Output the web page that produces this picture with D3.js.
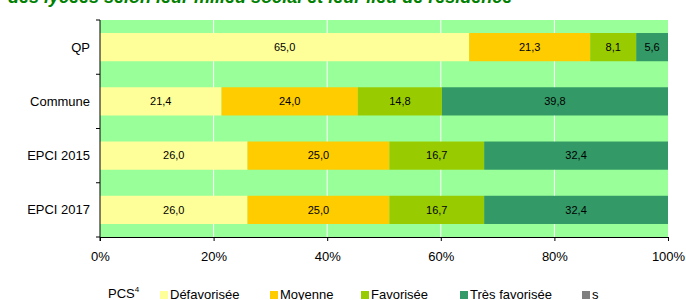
<!DOCTYPE html>
<html>
<head>
<meta charset="utf-8">
<script src="https://cdn.jsdelivr.net/npm/d3@7"></script>
<style>
  body { margin: 0; background: #fff; }
  svg text { font-family: "Liberation Sans", Arial, sans-serif; }
</style>
</head>
<body>
<script>
// categories and series
var categories = ["QP", "Commune", "EPCI 2015", "EPCI 2017"]
var seriesNames = ["Défavorisée", "Moyenne", "Favorisée", "Très favorisée", "s"]
var seriesColors = ["#FFFF99", "#FFCC00", "#99CC00", "#339966", "#808080"]

var defavorisee = [65.0, 21.4, 26.0, 26.0]
var moyenne = [21.3, 24.0, 25.0, 25.0]
var favorisee = [8.1, 14.8, 16.7, 16.7]
var tresFavorisee = [5.6, 39.8, 32.4, 32.4]
var secret = [0, 0, 0, 0]

var tickValues = [0, 0.2, 0.4, 0.6, 0.8, 1]
var title = "des lycées selon leur milieu social et leur lieu de résidence"

var width = 686, height = 300
var margins = {left: 100, right: 18, top: 20, bottom: 63}

var svg = d3.select("body").append("svg")
  .attr("width", width)
  .attr("height", height)

// title, cut at the top like the reference
svg.append("text")
  .attr("x", 8)
  .attr("y", 3)
  .attr("font-size", 18)
  .attr("font-weight", "bold")
  .attr("font-style", "italic")
  .attr("fill", "#008000")
  .text(title)

var allSeries = [defavorisee, moyenne, favorisee, tresFavorisee, secret]
var rows = categories.map(function(c, i) {
  var row = {name: c}
  seriesNames.forEach(function(s, j) { row[s] = allSeries[j][i] })
  return row
})

// normalise each row to 100%
var totals = rows.map(function(r) { return d3.sum(seriesNames, function(s) { return r[s] }) })
var stack = d3.stack().keys(seriesNames)
  .value(function(d, key) { return d[key] / totals[rows.indexOf(d)] })
var stacked = stack(rows)

var scaleX = d3.scaleLinear().domain([0, 1]).range([margins.left, width - margins.right])
var scaleY = d3.scaleBand().domain(categories)
  .range([margins.top, height - margins.bottom])
  .paddingInner(0.48).paddingOuter(0.24)
var bandStep = scaleY.step()

// plot background
svg.append("rect")
  .attr("x", scaleX(0))
  .attr("y", margins.top)
  .attr("width", scaleX(1) - scaleX(0))
  .attr("height", height - margins.bottom - margins.top)
  .attr("fill", "#99FF99")

// vertical gridlines
svg.append("g").selectAll("line")
  .data(tickValues.slice(1, -1))
  .enter().append("line")
  .attr("x1", function(d) { return scaleX(d) })
  .attr("x2", function(d) { return scaleX(d) })
  .attr("y1", margins.top)
  .attr("y2", height - margins.bottom)
  .attr("stroke", "#fff")
  .attr("stroke-width", 1)

// bars
var groups = svg.append("g").selectAll("g")
  .data(stacked)
  .enter().append("g")
  .attr("fill", function(d, i) { return seriesColors[i] })

groups.selectAll("rect")
  .data(function(d) { return d })
  .enter().append("rect")
  .attr("x", function(d) { return scaleX(d[0]) })
  .attr("width", function(d) { return scaleX(d[1]) - scaleX(d[0]) })
  .attr("y", function(d) { return scaleY(d.data.name) })
  .attr("height", scaleY.bandwidth())

// value labels
groups.each(function(serie) {
  d3.select(this).selectAll("text")
    .data(serie.filter(function(d) { return d.data[serie.key] > 0 }))
    .enter().append("text")
    .attr("x", function(d) { return (scaleX(d[0]) + scaleX(d[1])) / 2 })
    .attr("y", function(d) { return scaleY(d.data.name) + scaleY.bandwidth() / 2 })
    .attr("dy", "0.35em")
    .attr("text-anchor", "middle")
    .attr("font-size", 11)
    .attr("fill", "#000")
    .text(function(d) { return d3.format(".1f")(d.data[serie.key]).replace(".", ",") })
})

// x axis
var axisX = svg.append("g")
  .attr("transform", "translate(0," + (height - margins.bottom) + ")")
  .call(d3.axisBottom(scaleX).tickValues(tickValues).tickFormat(d3.format(".0%")).tickSizeOuter(0).tickSize(4).tickPadding(11))
axisX.selectAll("text").attr("font-size", 13).attr("fill", "#000").attr("font-family", null)
axisX.select(".domain").attr("stroke", "#000")

// y axis: ticks on the band boundaries
var axisY = svg.append("g")
  .attr("transform", "translate(" + margins.left + ",0)")
axisY.append("line")
  .attr("x1", 0).attr("x2", 0)
  .attr("y1", margins.top).attr("y2", height - margins.bottom + 4)
  .attr("stroke", "#000")
axisY.selectAll("line.tick")
  .data(d3.range(categories.length + 1))
  .enter().append("line")
  .attr("class", "tick")
  .attr("x1", -4).attr("x2", 0)
  .attr("y1", function(i) { return margins.top + i * bandStep })
  .attr("y2", function(i) { return margins.top + i * bandStep })
  .attr("stroke", "#000")
axisY.selectAll("text")
  .data(categories)
  .enter().append("text")
  .attr("x", -10)
  .attr("y", function(d) { return scaleY(d) + scaleY.bandwidth() / 2 })
  .attr("dy", "0.35em")
  .attr("text-anchor", "end")
  .attr("font-size", 13)
  .text(function(d) { return d })

// legend
var legend = svg.append("g").attr("transform", "translate(0,294)")
var pcs = legend.append("text").attr("x", 108).attr("y", 4).attr("font-size", 13)
pcs.append("tspan").text("PCS")
pcs.append("tspan").attr("font-size", 8).attr("dy", -6).text("4")

var legendX = [160, 270, 361, 460, 582]
var items = legend.selectAll("g.item")
  .data(seriesNames)
  .enter().append("g")
  .attr("class", "item")
  .attr("transform", function(d, i) { return "translate(" + legendX[i] + ",0)" })
items.append("rect")
  .attr("x", 0).attr("y", -3)
  .attr("width", 8).attr("height", 8)
  .attr("fill", function(d, i) { return seriesColors[i] })
items.append("text")
  .attr("x", 10).attr("y", 4.5)
  .attr("font-size", 13)
  .text(function(d) { return d })
</script>
</body>
</html>
